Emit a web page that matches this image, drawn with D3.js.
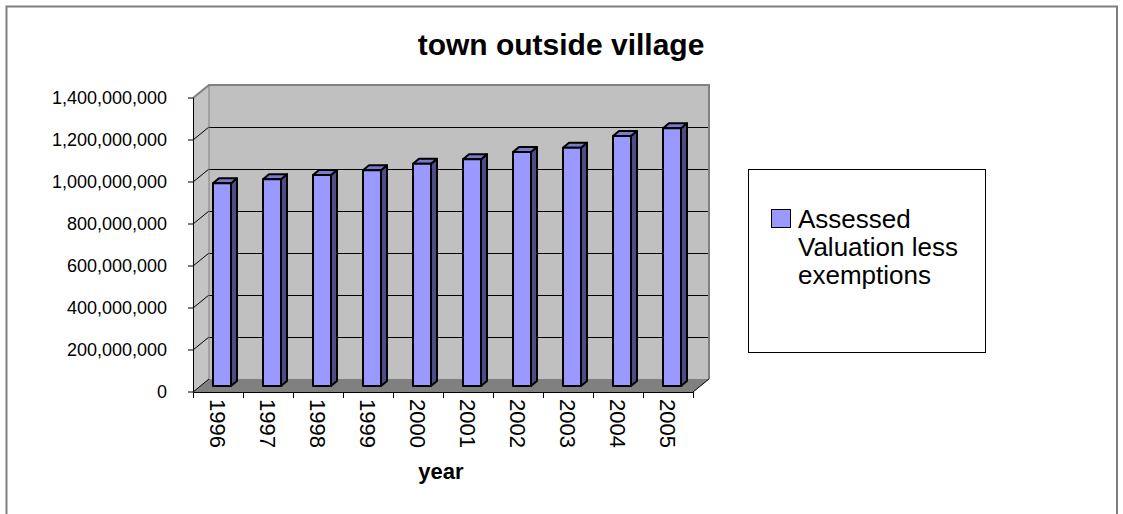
<!DOCTYPE html>
<html>
<head>
  <meta charset="utf-8">
  <title>town outside village</title>
  <script src="https://d3js.org/d3.v7.min.js"></script>
  <style>
    body { margin: 0; background: #fff; }
    text { font-family: "Liberation Sans", Arial, sans-serif; }
  </style>
</head>
<body>
<div id="chart"></div>
<script>
// data
var years = ["1996", "1997", "1998", "1999", "2000", "2001", "2002", "2003", "2004", "2005"];
var values = [965e6, 985e6, 1005e6, 1027e6, 1058e6, 1080e6, 1114e6, 1135e6, 1190e6, 1227e6];
var yTicks = [0, 200e6, 400e6, 600e6, 800e6, 1000e6, 1200e6, 1400e6];
var seriesName = ["Assessed", "Valuation less", "exemptions"];

var W = 1123, H = 514;
var depth = {dx: 16, dy: -13};     // wall depth offset
var bar = {w: 18, fx: 4, fy: -6, dx: 6, dy: -5};

var svg = d3.select("#chart").append("svg")
    .attr("width", W).attr("height", H);

// outer border
svg.append("rect")
    .attr("x", 6.5).attr("y", 6.5)
    .attr("width", 1110.5).attr("height", 540)
    .attr("fill", "none").attr("stroke", "#808080").attr("stroke-width", 2);

var x = d3.scaleBand().domain(years).range([193, 693]).padding(0);
var y = d3.scaleLinear().domain([0, 1400e6]).range([392, 98]);

var x0 = x.range()[0], x1 = x.range()[1];
var yb = y(0), yt = y(1400e6);

function pts(a) { return a.map(function(p) { return p.join(","); }).join(" "); }

// back wall
svg.append("rect")
    .attr("x", x0 + depth.dx).attr("y", yt + depth.dy)
    .attr("width", x1 - x0).attr("height", yb - yt)
    .attr("fill", "#c0c0c0");
// left wall
svg.append("polygon")
    .attr("points", pts([[x0, yt], [x0 + depth.dx, yt + depth.dy], [x0 + depth.dx, yb + depth.dy], [x0, yb]]))
    .attr("fill", "#c4c4c4");
// floor
svg.append("polygon")
    .attr("points", pts([[x0, yb], [x1, yb], [x1 + depth.dx, yb + depth.dy], [x0 + depth.dx, yb + depth.dy]]))
    .attr("fill", "#808080");

// gridlines
var grid = svg.append("g").attr("stroke", "#000").attr("stroke-width", 1);
yTicks.filter(function(t) { return t > 0 && t < 1400e6; }).forEach(function(t) {
  grid.append("line")
      .attr("x1", x0 + depth.dx).attr("x2", x1 + depth.dx)
      .attr("y1", y(t) + depth.dy + 0.5).attr("y2", y(t) + depth.dy + 0.5);
});
yTicks.forEach(function(t) {
  grid.append("line")
      .attr("x1", x0).attr("y1", y(t))
      .attr("x2", x0 + depth.dx).attr("y2", y(t) + depth.dy);
});

// wall edges
var edge = svg.append("g").attr("stroke", "#808080").attr("stroke-width", 2).attr("fill", "none");
edge.append("polyline")
    .attr("points", pts([[x0, yt], [x0 + depth.dx, yt + depth.dy], [x1 + depth.dx, yt + depth.dy], [x1 + depth.dx, yb + depth.dy]]));
edge.append("line")
    .attr("x1", x0 + depth.dx).attr("x2", x0 + depth.dx)
    .attr("y1", yt + depth.dy).attr("y2", yb + depth.dy)
    .attr("stroke-width", 1);

// bars
var bars = svg.append("g").selectAll("g").data(values).enter().append("g")
    .attr("stroke", "#000").attr("stroke-width", 2).attr("stroke-linejoin", "round");
bars.each(function(v, i) {
  var g = d3.select(this);
  var l = x(years[i]) + x.bandwidth() / 2 - bar.w / 2 + bar.fx;
  var r = l + bar.w;
  var top = y(v) + bar.fy, bot = yb + bar.fy;
  g.append("polygon")
      .attr("points", pts([[r, top], [r + bar.dx, top + bar.dy], [r + bar.dx, bot + bar.dy], [r, bot]]))
      .attr("fill", "#4d4d85");
  g.append("polygon")
      .attr("points", pts([[l, top], [l + bar.dx, top + bar.dy], [r + bar.dx, top + bar.dy], [r, top]]))
      .attr("fill", "#7a7acc");
  g.append("rect")
      .attr("x", l).attr("y", top).attr("width", bar.w).attr("height", bot - top)
      .attr("fill", "#9999ff");
});

// y axis
var yAxis = svg.append("g");
yAxis.append("line").attr("x1", x0 + 0.5).attr("x2", x0 + 0.5).attr("y1", yt).attr("y2", yb)
    .attr("stroke", "#000");
yTicks.forEach(function(t) {
  yAxis.append("line").attr("x1", x0 - 5).attr("x2", x0).attr("y1", y(t)).attr("y2", y(t))
      .attr("stroke", "#000");
  yAxis.append("text")
      .attr("x", 167).attr("y", y(t)).attr("dy", "0.35em")
      .attr("text-anchor", "end").attr("font-size", "18px").attr("fill", "#000")
      .text(d3.format(",")(t));
});

// x axis
var xAxis = svg.append("g");
xAxis.append("line").attr("x1", x0).attr("x2", x1).attr("y1", yb + 0.5).attr("y2", yb + 0.5)
    .attr("stroke", "#000");
xAxis.append("line").attr("x1", x1).attr("y1", yb).attr("x2", x1 + depth.dx).attr("y2", yb + depth.dy)
    .attr("stroke", "#000");
years.concat(["end"]).forEach(function(yr, i) {
  var xx = x0 + i * x.bandwidth();
  xAxis.append("line").attr("x1", xx + 0.5).attr("x2", xx + 0.5).attr("y1", yb).attr("y2", yb + 6)
      .attr("stroke", "#000");
});
years.forEach(function(yr) {
  var cx = x(yr) + x.bandwidth() / 2;
  xAxis.append("text")
      .attr("transform", "translate(" + cx + ",399) rotate(90)")
      .attr("dy", "0.35em")
      .attr("font-size", "22px").attr("fill", "#000")
      .text(yr);
});

// axis title
svg.append("text")
    .attr("x", 441).attr("y", 479)
    .attr("text-anchor", "middle").attr("font-size", "22px").attr("font-weight", "bold")
    .text("year");

// chart title
svg.append("text")
    .attr("x", 561).attr("y", 55)
    .attr("text-anchor", "middle").attr("font-size", "30px").attr("font-weight", "bold")
    .text("town outside village");

// legend
var legend = svg.append("g");
legend.append("rect")
    .attr("x", 748.5).attr("y", 169.5).attr("width", 237).attr("height", 183)
    .attr("fill", "#fff").attr("stroke", "#000");
legend.append("rect")
    .attr("x", 771.5).attr("y", 209.5).attr("width", 19).attr("height", 18)
    .attr("fill", "#9999ff").attr("stroke", "#000");
legend.selectAll("text.lg").data(seriesName).enter().append("text")
    .attr("class", "lg")
    .attr("x", 798).attr("y", function(d, i) { return 228 + i * 28; })
    .attr("font-size", "26px").attr("fill", "#000")
    .text(function(d) { return d; });
</script>
</body>
</html>
